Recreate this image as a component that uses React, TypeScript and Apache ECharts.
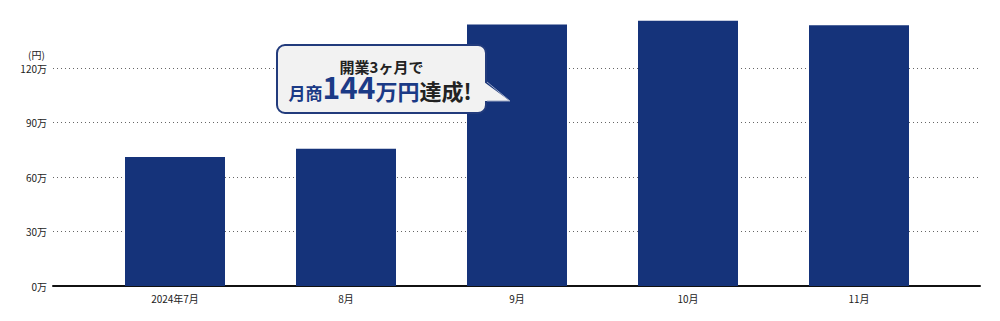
import React, { useEffect, useRef } from "react";
import * as echarts from "echarts";

// Monthly sales, in units of 万円
const months = ["2024年7月", "8月", "9月", "10月", "11月"];
const sales = [71, 75.5, 144, 146, 143.5];
const yTicks = [0, 30, 60, 90, 120, 150];

const FONT = "'Noto Sans CJK JP', 'Noto Sans', sans-serif";
const NAVY = "#15337a";

export default function App() {
  const ref = useRef<HTMLDivElement>(null);

  useEffect(() => {
    if (!ref.current) return;
    const chart = echarts.init(ref.current, null, { renderer: "svg" });
    const yMax = yTicks[yTicks.length - 1];
    const yStep = yTicks[1] - yTicks[0];

    const rich = (size: number, color: string) => ({
      fontSize: size,
      fontWeight: "bold",
      fill: color,
      fontFamily: FONT,
      verticalAlign: "bottom",
      lineHeight: 24,
    });

    chart.setOption({
      animation: false,
      textStyle: { fontFamily: FONT },
      grid: [
        { left: 53, right: 20, top: 13.5, bottom: 35 },
        { left: 89.5, right: 55.5, top: 13.5, bottom: 35 },
      ],
      xAxis: [
        {
          type: "value",
          gridIndex: 0,
          min: 0,
          max: 1,
          axisLine: { show: true, onZero: false, lineStyle: { color: "#111", width: 2 } },
          axisTick: { show: false },
          axisLabel: { show: false },
          splitLine: { show: false },
        },
        {
          type: "category",
          gridIndex: 1,
          data: months,
          axisLine: { show: false },
          axisTick: { show: false },
          axisLabel: { color: "#222", fontSize: 10, margin: 7, fontFamily: FONT },
        },
      ],
      yAxis: [
        {
          type: "value",
          gridIndex: 0,
          min: 0,
          max: yMax,
          interval: yStep,
          axisLine: { show: false },
          axisTick: { show: false },
          axisLabel: {
            color: "#222",
            fontSize: 10,
            margin: 6,
            fontFamily: FONT,
            showMaxLabel: false,
            formatter: (v: number) => (v >= yMax ? "" : `${v}万`),
          },
          splitLine: {
            show: true,
            showMaxLine: false,
            lineStyle: {
              color: ["#666", "#666", "#666", "#666", "#666", "rgba(0,0,0,0)"],
              type: [1, 3],
              width: 1,
            },
          },
        },
        {
          type: "value",
          gridIndex: 1,
          min: 0,
          max: yMax,
          interval: yStep,
          show: false,
          splitLine: { show: false },
        },
      ],
      series: [
        {
          type: "bar",
          xAxisIndex: 1,
          yAxisIndex: 1,
          data: sales,
          barWidth: 100,
          itemStyle: { color: NAVY },
          z: 3,
        },
      ],
      graphic: [
        {
          type: "text",
          left: 28,
          top: 49,
          style: { text: "(円)", fontSize: 10, fill: "#222", fontFamily: FONT },
        },
        {
          type: "rect",
          z: 100,
          shape: { x: 277, y: 45, width: 209, height: 68, r: 8 },
          style: { fill: "#f2f2f2", stroke: "#223b7c", lineWidth: 2 },
        },
        {
          type: "polygon",
          z: 101,
          shape: { points: [[484, 82], [510, 101], [484, 101]] },
          style: { fill: "#f2f2f2" },
        },
        {
          type: "polyline",
          z: 102,
          shape: { points: [[487, 82], [510, 101], [487, 101]] },
          style: { stroke: "#9aa6c4", lineWidth: 1, fill: "none" },
        },
        {
          type: "text",
          z: 103,
          x: 381.5,
          y: 66,
          style: {
            text: "開業3ヶ月で",
            fontSize: 15,
            fontWeight: "bold",
            fill: "#222",
            fontFamily: FONT,
            align: "center",
            verticalAlign: "middle",
          },
        },
        {
          type: "text",
          z: 103,
          x: 380,
          y: 89,
          style: {
            text: "{a|月商}{b|144}{c|万円}{d|達成!}",
            align: "center",
            verticalAlign: "middle",
            fontFamily: FONT,
            rich: {
              a: rich(17, "#1b3a86"),
              b: rich(30, "#1b3a86"),
              c: rich(22, "#1b3a86"),
              d: rich(22, "#222"),
            },
          },
        },
      ],
    });

    return () => chart.dispose();
  }, []);

  return <div ref={ref} style={{ width: 1000, height: 321, margin: -8 }} />;
}
